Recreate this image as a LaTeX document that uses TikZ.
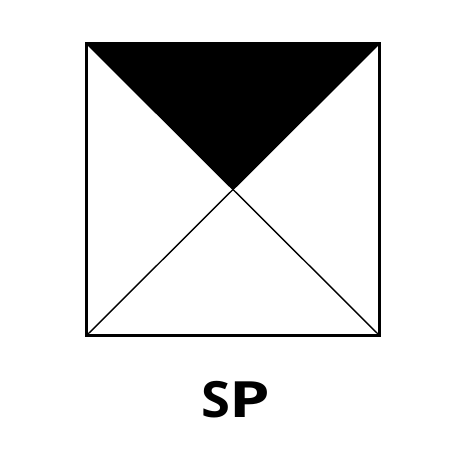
\documentclass[tikz,border=0pt]{standalone}
\usepackage{fontspec}
\newfontfamily\labfont{Open Sans}
\begin{document}
\begin{tikzpicture}[x=1pt,y=1pt]
\tikzset{frame/.style={draw=black,line width=3pt},diag/.style={draw=black,line width=1.4pt},lab/.style={font=\labfont\bfseries\fontsize{50}{50}\selectfont,anchor=base,inner sep=0pt}}
\useasboundingbox (0,0) rectangle (467,467);
\coordinate (tl) at (86.5,423.5);
\coordinate (tr) at (379.5,423.5);
\coordinate (bl) at (86.5,131.5);
\coordinate (br) at (379.5,131.5);
\coordinate (c) at (233,277.5);
\fill[black] (tl) -- (tr) -- (c) -- cycle;
\draw[diag] (bl) -- (c) -- (br);
\draw[diag] (tl) -- (c) -- (tr);
\draw[frame] (tl) rectangle (br);
\node[lab] (sp) at (236,49.3) {\scalebox{1.05}[1]{S}\kern-1pt\scalebox{1.3}[1]{P}};
\end{tikzpicture}
\end{document}
